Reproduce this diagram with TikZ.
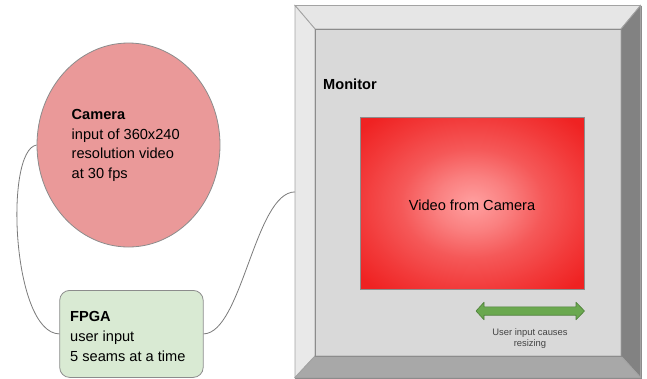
\documentclass[tikz,border=0pt]{standalone}
\usepackage{fontspec}
\setmainfont{Liberation Sans}
\usetikzlibrary{shapes.geometric}

\definecolor{camfill}{HTML}{EA9999}
\definecolor{fpgafill}{HTML}{D9EAD3}
\definecolor{edgegrey}{HTML}{8C8C8C}
\definecolor{wiregrey}{HTML}{7A7A7A}
\definecolor{scrface}{HTML}{D9D9D9}
\definecolor{bevtop}{HTML}{E6E6E6}
\definecolor{bevleft}{HTML}{E9E9E9}
\definecolor{bevright}{HTML}{828282}
\definecolor{bevbottom}{HTML}{A8A8A8}
\definecolor{vidA}{HTML}{FFA0A0}
\definecolor{vidB}{HTML}{FA8080}
\definecolor{vidC}{HTML}{F55858}
\definecolor{vidD}{HTML}{F23A3A}
\definecolor{vidE}{HTML}{EF2222}
\definecolor{arrowfill}{HTML}{6AA84F}
\definecolor{arrowedge}{HTML}{4E7F3A}
\definecolor{notegrey}{HTML}{434343}

\pgfdeclareradialshading{vidglow}{\pgfpoint{0bp}{0bp}}{%
  color(0bp)=(vidA); color(8bp)=(vidB); color(16bp)=(vidC);
  color(25bp)=(vidD); color(33bp)=(vidE); color(71bp)=(vidE)}

\begin{document}
\begin{tikzpicture}[x=1pt,y=-1pt,
  body/.style={font=\fontsize{14.6}{19.6}\selectfont, inner sep=0, anchor=base west},
  head/.style={body, font=\fontsize{14.6}{19.6}\selectfont\bfseries},
  note/.style={font=\fontsize{9.4}{12}\selectfont, text=notegrey, inner sep=0, anchor=base},
  wire/.style={draw=wiregrey, line width=0.8pt},
  bevel/.style={draw=edgegrey!80, line width=0.8pt}]
\useasboundingbox (0,0) rectangle (647,378);

\begin{scope}
\clip (0,0) rectangle (647,378);

% monitor frame with bevelled edges
\node[draw=edgegrey, fill=scrface, line width=0.8pt, inner sep=0,
      minimum width=345.5pt, minimum height=372pt, anchor=north west]
      (monitor) at (295,5.5) {};
\filldraw[bevel, fill=bevtop]    (295,5.5) -- (640.5,5.5) -- (621,29) -- (315,29) -- cycle;
\filldraw[bevel, fill=bevleft]   (295,5.5) -- (315,29) -- (315,356) -- (295,377.5) -- cycle;
\filldraw[bevel, fill=bevright]  (640.5,5.5) -- (640.5,377.5) -- (621,356) -- (621,29) -- cycle;
\filldraw[bevel, fill=bevbottom] (315,356) -- (621,356) -- (640.5,377.5) -- (295,377.5) -- cycle;
\draw[draw=edgegrey, line width=0.8pt] (315,29) rectangle (621,356);

\node[head, anchor=base west] (montitle) at (323,89) {Monitor};

% video area
\node[draw=edgegrey, shading=vidglow, line width=0.6pt, inner sep=0,
      minimum width=224pt, minimum height=172pt, anchor=north west]
      (video) at (360,117) {};
\node[body, anchor=base] (videotxt) at (472,210.5) {Video from Camera};

% resize arrow
\filldraw[draw=arrowedge, fill=arrowfill, line width=0.6pt, line join=round]
  (476,311) -- (484,302.2) -- (484,306.8) -- (576,306.8) -- (576,302.2)
  -- (584.5,311) -- (576,319.8) -- (576,315.2) -- (484,315.2) -- (484,319.8) -- cycle;
\node[note] (resize1) at (530,335) {User input causes};
\node[note] (resize2) at (530,346.5) {resizing};

% camera
\node[ellipse, draw=edgegrey, fill=camfill, line width=0.8pt, inner sep=0,
      minimum width=183pt, minimum height=204pt] (camera) at (128.5,145) {};
\node[head] (camtitle) at (71.5,119.3) {Camera};
\node[body] (cam1) at (71.5,139.1) {input of 360x240};
\node[body] (cam2) at (71.5,158.8) {resolution video};
\node[body] (cam3) at (71.5,178.4) {at 30 fps};

% FPGA
\node[draw=edgegrey, fill=fpgafill, rounded corners=10pt, line width=0.8pt, inner sep=0,
      minimum width=143.5pt, minimum height=87pt, anchor=north west]
      (fpga) at (59.3,290) {};
\node[head] (fpgatitle) at (70,321) {FPGA};
\node[body] (fpga1) at (70,341.3) {user input};
\node[body] (fpga2) at (70,361) {5 seams at a time};

% cables
\draw[wire] (camera.west) .. controls (4,150) and (12,333) .. (fpga.west);
\draw[wire] (fpga.east) .. controls (242,333) and (255,192) .. (monitor.west);
\end{scope}
\end{tikzpicture}
\end{document}
